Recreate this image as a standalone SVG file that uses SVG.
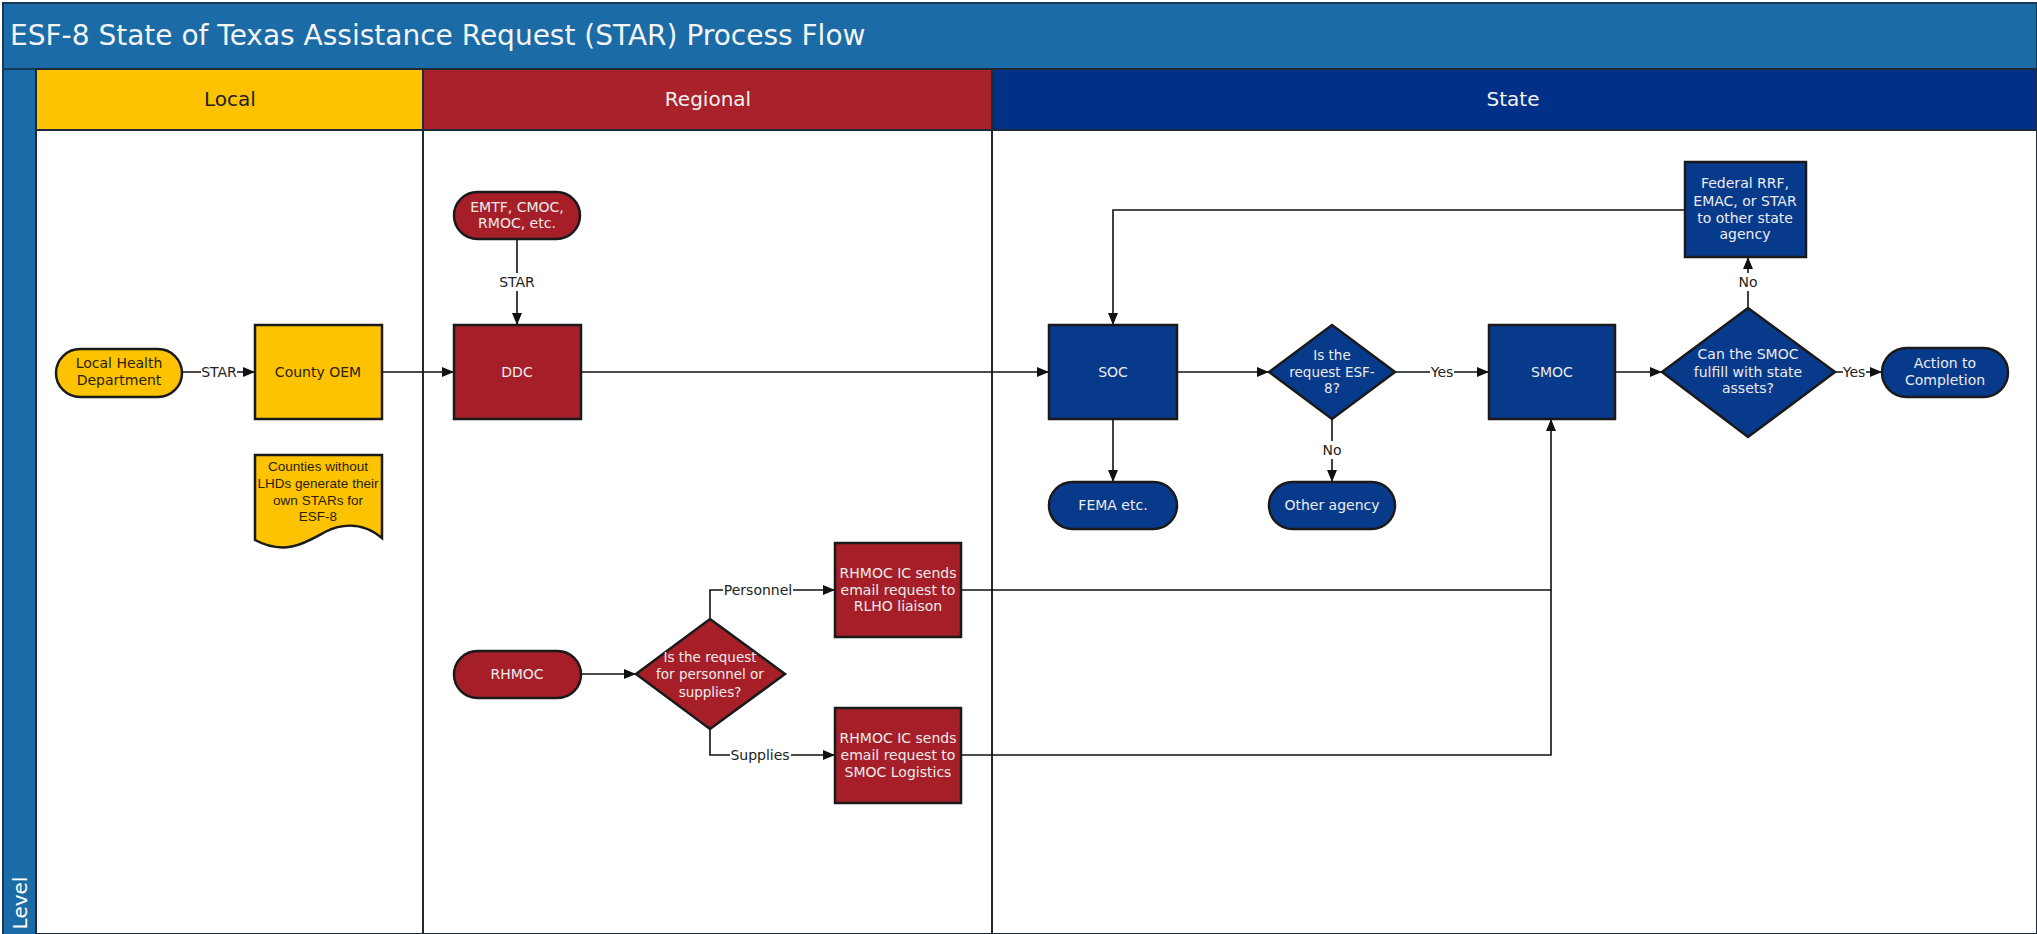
<svg xmlns="http://www.w3.org/2000/svg" width="2037" height="934" viewBox="0 0 2037 934">
<style>
.t{font-family:"DejaVu Sans",Verdana,sans-serif;font-size:14px;text-anchor:middle}
.d{font-size:13.5px}
.w{fill:#ececec}
.k{fill:#2a1f0a}
.lbl{font-family:"DejaVu Sans",Verdana,sans-serif;font-size:14px;text-anchor:middle;fill:#222}
.hd{font-family:"DejaVu Sans",Verdana,sans-serif;font-size:20px;text-anchor:middle}
.yel{fill:#fdc200;stroke:#1a1a1a;stroke-width:2.5}
.red{fill:#a61f28;stroke:#1a1a1a;stroke-width:2.5}
.blu{fill:#083a8c;stroke:#1a1a1a;stroke-width:2.5}
.c{fill:none;stroke:#111;stroke-width:1.6}
.bg{fill:#fff}
</style>
<defs>
<marker id="ah" markerWidth="12" markerHeight="10" refX="11" refY="5" orient="auto" markerUnits="userSpaceOnUse">
<path d="M0,0 L12,5 L0,10 Z" fill="#111"/>
</marker>
</defs>
<g id="frame">
<rect x="0" y="0" width="2037" height="934" fill="#fff"/>
<rect x="3" y="3" width="2034" height="66" fill="#1a6ba6" stroke="#163a56" stroke-width="2"/>
<text x="10" y="45" font-family="DejaVu Sans, Verdana, sans-serif" font-size="28" fill="#f4f4f4">ESF-8 State of Texas Assistance Request (STAR) Process Flow</text>
<rect x="3" y="69" width="33" height="866" fill="#1a6ba6" stroke="#163a56" stroke-width="2"/>
<text transform="translate(27,903) rotate(-90)" class="hd" fill="#fff">Level</text>
<rect x="36" y="69" width="387" height="61" fill="#fdc200" stroke="#1d2a36" stroke-width="2"/>
<rect x="423" y="69" width="569" height="61" fill="#a8212b" stroke="#1d2a36" stroke-width="2"/>
<rect x="992" y="69" width="1045" height="61" fill="#003087" stroke="#1d2a36" stroke-width="2"/>
<text x="230" y="106" class="hd" fill="#222">Local</text>
<text x="708" y="106" class="hd" fill="#f2f2f2">Regional</text>
<text x="1513" y="106" class="hd" fill="#f2f2f2">State</text>
<rect x="36" y="130" width="387" height="804" fill="#fff" stroke="#1d2a36" stroke-width="2"/>
<rect x="423" y="130" width="569" height="804" fill="#fff" stroke="#1d2a36" stroke-width="2"/>
<rect x="992" y="130" width="1045" height="804" fill="#fff" stroke="#1d2a36" stroke-width="2"/>
</g>
<g id="connectors">
<path class="c" d="M182,372 H254" marker-end="url(#ah)"/>
<path class="c" d="M382,372 H453" marker-end="url(#ah)"/>
<path class="c" d="M517,239 V324" marker-end="url(#ah)"/>
<path class="c" d="M581,372 H1048" marker-end="url(#ah)"/>
<path class="c" d="M1177,372 H1268" marker-end="url(#ah)"/>
<path class="c" d="M1395,372 H1488" marker-end="url(#ah)"/>
<path class="c" d="M1332,419 V481" marker-end="url(#ah)"/>
<path class="c" d="M1113,419 V481" marker-end="url(#ah)"/>
<path class="c" d="M1615,372 H1661" marker-end="url(#ah)"/>
<path class="c" d="M1835,372 H1881" marker-end="url(#ah)"/>
<path class="c" d="M1748,308 V258" marker-end="url(#ah)"/>
<path class="c" d="M1685,210 H1113 V324" marker-end="url(#ah)"/>
<path class="c" d="M581,674 H635" marker-end="url(#ah)"/>
<path class="c" d="M710,619 V590 H834" marker-end="url(#ah)"/>
<path class="c" d="M710,729 V755 H834" marker-end="url(#ah)"/>
<path class="c" d="M961,590 H1551 V420" marker-end="url(#ah)"/>
<path class="c" d="M961,755 H1551 V590"/>
<rect class="bg" x="201" y="363" width="36" height="18"/>
<text class="lbl" x="219" y="377">STAR</text>
<rect class="bg" x="499" y="273" width="36" height="18"/>
<text class="lbl" x="517" y="287">STAR</text>
<rect class="bg" x="1430" y="363" width="24" height="18"/>
<text class="lbl" x="1442" y="377">Yes</text>
<rect class="bg" x="1321" y="441" width="22" height="18"/>
<text class="lbl" x="1332" y="455">No</text>
<rect class="bg" x="1843" y="363" width="23" height="18"/>
<text class="lbl" x="1854" y="377">Yes</text>
<rect class="bg" x="1737" y="273" width="22" height="18"/>
<text class="lbl" x="1748" y="287">No</text>
<rect class="bg" x="723" y="581" width="70" height="18"/>
<text class="lbl" x="758" y="595">Personnel</text>
<rect class="bg" x="730" y="746" width="61" height="18"/>
<text class="lbl" x="760" y="760">Supplies</text>
</g>
<g id="lhd">
<rect class="yel" x="56" y="349" width="126" height="48" rx="24"/>
<text class="t k" x="119" y="368">Local Health</text>
<text class="t k" x="119" y="385">Department</text>
</g>
<g id="county-oem">
<rect class="yel" x="255" y="325" width="127" height="94"/>
<text class="t k" x="318" y="377">County OEM</text>
</g>
<g id="note">
<path class="yel" d="M255,455 H382 V538 C365,524 345,522 325,532 C305,543 285,556 255,540 Z"/>
<text x="318" y="471" font-family="Liberation Sans, Arial, sans-serif" font-size="13.5" text-anchor="middle" fill="#2a1f0a">Counties without</text>
<text x="318" y="488" font-family="Liberation Sans, Arial, sans-serif" font-size="13.5" text-anchor="middle" fill="#2a1f0a">LHDs generate their</text>
<text x="318" y="505" font-family="Liberation Sans, Arial, sans-serif" font-size="13.5" text-anchor="middle" fill="#2a1f0a">own STARs for</text>
<text x="318" y="521" font-family="Liberation Sans, Arial, sans-serif" font-size="13.5" text-anchor="middle" fill="#2a1f0a">ESF-8</text>
</g>
<g id="emtf">
<rect class="red" x="454" y="192" width="126" height="47" rx="23.5"/>
<text class="t w" x="517" y="212">EMTF, CMOC,</text>
<text class="t w" x="517" y="228">RMOC, etc.</text>
</g>
<g id="ddc">
<rect class="red" x="454" y="325" width="127" height="94"/>
<text class="t w" x="517" y="377">DDC</text>
</g>
<g id="rhmoc">
<rect class="red" x="454" y="651" width="127" height="47" rx="23.5"/>
<text class="t w" x="517" y="679">RHMOC</text>
</g>
<g id="decision-personnel">
<path class="red" d="M710,619 L785,674 L710,729 L636,674 Z"/>
<text class="t w d" x="710" y="662">Is the request</text>
<text class="t w d" x="710" y="679">for personnel or</text>
<text class="t w d" x="710" y="697">supplies?</text>
</g>
<g id="rlho">
<rect class="red" x="835" y="543" width="126" height="94"/>
<text class="t w" x="898" y="578">RHMOC IC sends</text>
<text class="t w" x="898" y="595">email request to</text>
<text class="t w" x="898" y="611">RLHO liaison</text>
</g>
<g id="smoc-logistics">
<rect class="red" x="835" y="708" width="126" height="95"/>
<text class="t w" x="898" y="743">RHMOC IC sends</text>
<text class="t w" x="898" y="760">email request to</text>
<text class="t w" x="898" y="777">SMOC Logistics</text>
</g>
<g id="soc">
<rect class="blu" x="1049" y="325" width="128" height="94"/>
<text class="t w" x="1113" y="377">SOC</text>
</g>
<g id="fema">
<rect class="blu" x="1049" y="482" width="128" height="47" rx="23.5"/>
<text class="t w" x="1113" y="510">FEMA etc.</text>
</g>
<g id="decision-esf8">
<path class="blu" d="M1332,325 L1395,372 L1332,419 L1269,372 Z"/>
<text class="t w d" x="1332" y="360">Is the</text>
<text class="t w d" x="1332" y="377">request ESF-</text>
<text class="t w d" x="1332" y="393">8?</text>
</g>
<g id="other-agency">
<rect class="blu" x="1269" y="482" width="126" height="47" rx="23.5"/>
<text class="t w" x="1332" y="510">Other agency</text>
</g>
<g id="smoc">
<rect class="blu" x="1489" y="325" width="126" height="94"/>
<text class="t w" x="1552" y="377">SMOC</text>
</g>
<g id="decision-state-assets">
<path class="blu" d="M1748,308 L1835,372 L1748,437 L1662,372 Z"/>
<text class="t w" x="1748" y="359">Can the SMOC</text>
<text class="t w" x="1748" y="377">fulfill with state</text>
<text class="t w" x="1748" y="393">assets?</text>
</g>
<g id="federal">
<rect class="blu" x="1685" y="162" width="121" height="95"/>
<text class="t w" x="1745" y="188">Federal RRF,</text>
<text class="t w" x="1745" y="206">EMAC, or STAR</text>
<text class="t w" x="1745" y="223">to other state</text>
<text class="t w" x="1745" y="239">agency</text>
</g>
<g id="action">
<rect class="blu" x="1882" y="348" width="126" height="49" rx="24.5"/>
<text class="t w" x="1945" y="368">Action to</text>
<text class="t w" x="1945" y="385">Completion</text>
</g>
</svg>
